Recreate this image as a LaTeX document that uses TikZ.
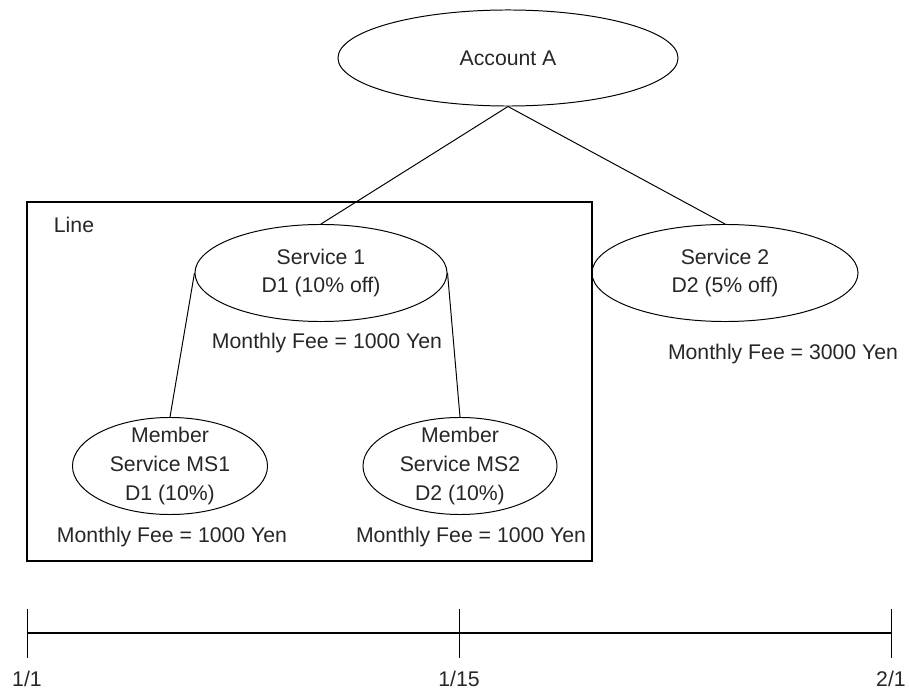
\documentclass[tikz,border=0pt]{standalone}
\usepackage{fontspec}
\setmainfont{Liberation Sans}
\usetikzlibrary{positioning}
\usetikzlibrary{shapes}

\tikzset{
    svc/.style={ellipse, draw, inner sep=0pt},
    ctr/.style={align=center}
}

\begin{document}
\begin{tikzpicture}[x=0.025cm, y=-0.025cm, line width=0.7pt,
    font=\fontsize{15.1}{20.5}\selectfont, text=black!85]
    \useasboundingbox (0,0) rectangle (909,694);

    %draw line box
    \draw[line width=1pt] (27,202) rectangle (592,561);
    \node (line) at (74,225) {Line};

    %draw account and services
    \node[svc, minimum width=8.5cm, minimum height=2.4cm] (acc) at (508,58) {Account A};
    \node[svc, minimum width=6.3cm, minimum height=2.425cm,
        label={[ctr]center:Service 1\\D1 (10\% off)}] (s1) at (321,273) {};
    \node[svc, minimum width=6.65cm, minimum height=2.425cm,
        label={[ctr]center:Service 2\\D2 (5\% off)}] (s2) at (725,273) {};
    \node[svc, minimum width=4.875cm, minimum height=2.425cm,
        label={[ctr]center:Member\\Service MS1\\D1 (10\%)}] (ms1) at (170,466) {};
    \node[svc, minimum width=4.85cm, minimum height=2.425cm,
        label={[ctr]center:Member\\Service MS2\\D2 (10\%)}] (ms2) at (460,466) {};

    %draw fees
    \node (fee1) at (327,343) {Monthly Fee = 1000 Yen};
    \node (fee2) at (783,354) {Monthly Fee = 3000 Yen};
    \node (fee3) at (172,537) {Monthly Fee = 1000 Yen};
    \node (fee4) at (471,537) {Monthly Fee = 1000 Yen};

    %draw connectors
    \draw (acc.south) -- (s1.north);
    \draw (acc.south) -- (s2.north);
    \draw (s1.west) -- (ms1.north);
    \draw (s1.east) -- (ms2.north);

    %draw horizontal line
    \coordinate (d1) at (27,633);
    \coordinate (d2) at (459,633);
    \coordinate (d3) at (891,633);
    \draw[line width=1.3pt] (d1) -- (d3);

    %draw vertical lines
    \foreach \c in {d1,d2,d3}
    \draw ([yshift=0.6cm]\c) -- ([yshift=-0.625cm]\c);

    %draw dates
    \node (t1) at (27,679) {1/1};
    \node (t2) at (459,679) {1/15};
    \node (t3) at (891,679) {2/1};

\end{tikzpicture}
\end{document}
